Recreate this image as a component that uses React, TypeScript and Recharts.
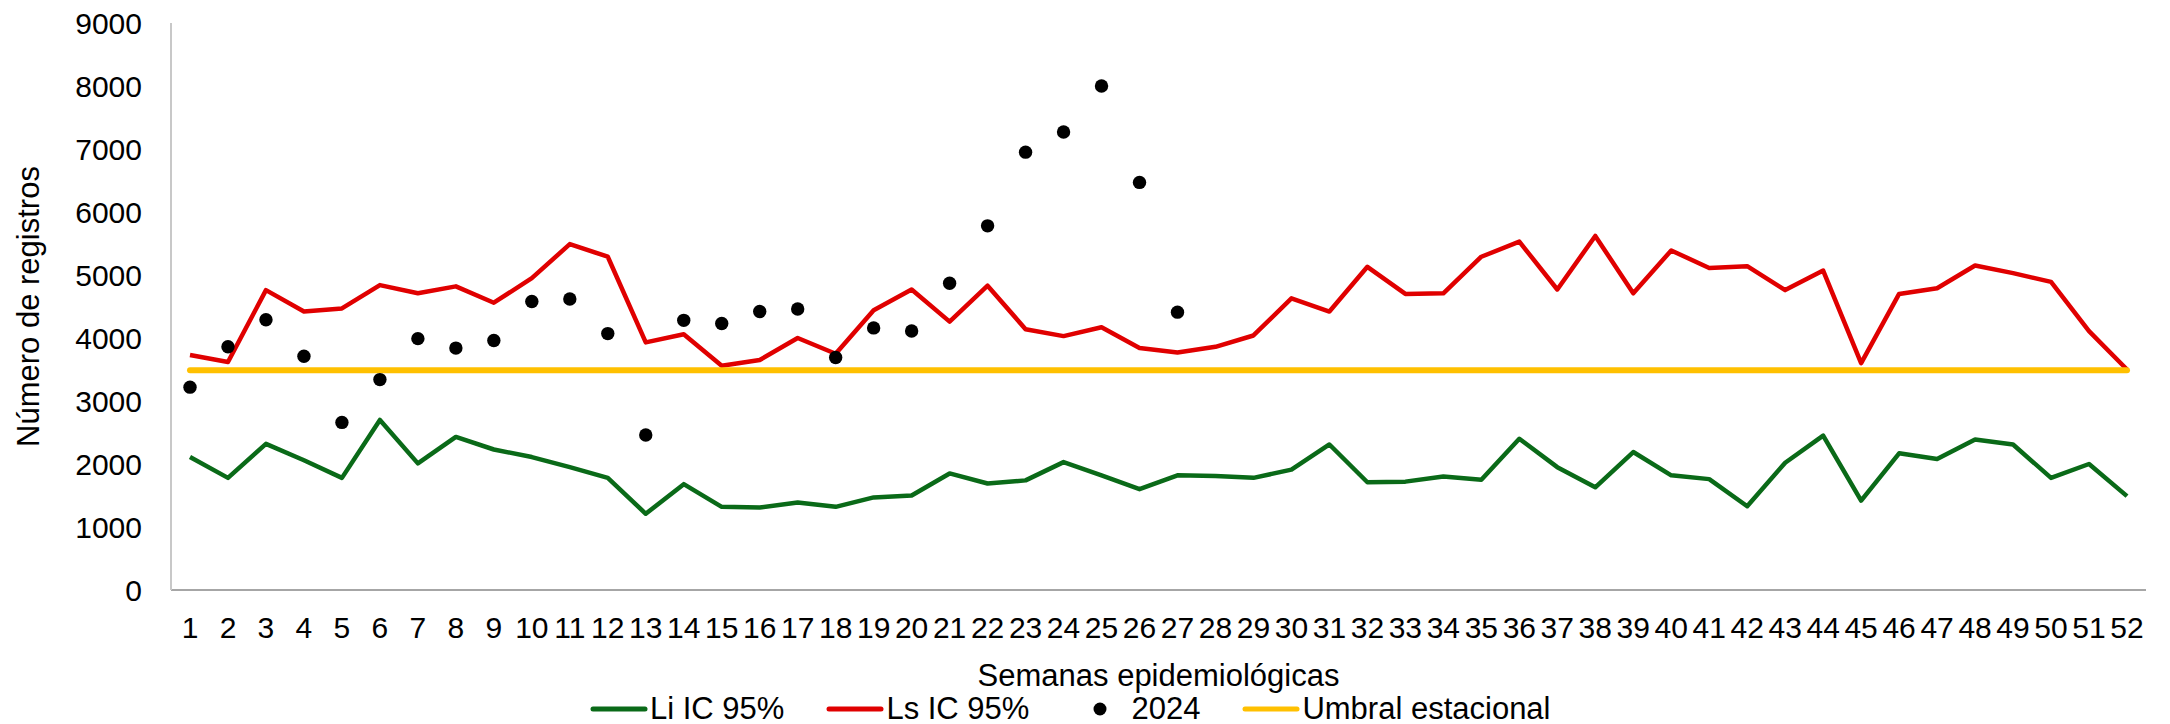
import React from "react";
import {
  ComposedChart,
  Line,
  XAxis,
  YAxis,
} from "recharts";

const semanas = [
  "1", "2", "3", "4", "5", "6", "7", "8", "9", "10", "11", "12", "13",
  "14", "15", "16", "17", "18", "19", "20", "21", "22", "23", "24", "25", "26",
  "27", "28", "29", "30", "31", "32", "33", "34", "35", "36", "37", "38", "39",
  "40", "41", "42", "43", "44", "45", "46", "47", "48", "49", "50", "51", "52",
];

const liIC95 = [
  2110, 1780, 2320, 2060, 1780, 2700, 2010, 2430, 2230, 2110, 1950, 1780, 1210,
  1680, 1320, 1310, 1390, 1320, 1470, 1500, 1850, 1690, 1740, 2030, 1820, 1600,
  1820, 1810, 1780, 1910, 2310, 1710, 1720, 1800, 1750, 2400, 1950, 1630, 2190,
  1820, 1760, 1330, 2020, 2450, 1420, 2170, 2080, 2390, 2310, 1780, 2000, 1490,
];

const lsIC95 = [
  3730, 3620, 4760, 4420, 4470, 4840, 4710, 4820, 4560, 4950, 5490, 5290, 3930,
  4060, 3560, 3650, 4000, 3750, 4440, 4770, 4260, 4830, 4140, 4030, 4170, 3840,
  3770, 3860, 4040, 4630, 4420, 5130, 4700, 4710, 5290, 5530, 4770, 5620, 4710,
  5390, 5110, 5140, 4760, 5070, 3600, 4700, 4790, 5150, 5030, 4890, 4110, 3500,
];

// only weeks 1-27 reported so far
const casos2024 = [
  3220, 3860, 4290, 3710, 2660, 3340, 3990, 3840, 3960, 4580, 4620, 4070, 2460,
  4280, 4230, 4420, 4460, 3690, 4160, 4110, 4870, 5780, 6950, 7270, 8000, 6470,
  4410,
];

const umbralEstacional = 3490;

const yTicks = [0, 1000, 2000, 3000, 4000, 5000, 6000, 7000, 8000, 9000];

const data = semanas.map((s, i) => ({
  semana: s,
  li: liIC95[i],
  ls: lsIC95[i],
  y2024: i < casos2024.length ? casos2024[i] : null,
  umbral: umbralEstacional,
}));

const FONT = '"Liberation Sans", Arial, sans-serif';
const GREEN = "#0A6A18";
const RED = "#E00000";
const YELLOW = "#FFC000";

function LegendLine({ color, label }: { color: string; label: string }) {
  return (
    <div style={{ display: "flex", alignItems: "center", marginRight: 42 }}>
      <svg width={58} height={12} style={{ marginRight: 2 }}>
        <line x1={3} y1={6} x2={55} y2={6} stroke={color} strokeWidth={5} strokeLinecap="round" />
      </svg>
      <span>{label}</span>
    </div>
  );
}

export default function App() {
  return (
    <div style={{ position: "absolute", left: 0, top: 0, width: 2170, height: 724, background: "#fff", fontFamily: FONT }}>
      <ComposedChart
        width={2170}
        height={724}
        data={data}
        margin={{ top: 23, right: 24, bottom: 34, left: 0 }}
      >
        <XAxis
          dataKey="semana"
          interval={0}
          height={100}
          padding={{ left: 19, right: 19 }}
          tickLine={false}
          tickSize={0}
          tickMargin={27}
          stroke="#A6A6A6"
          strokeWidth={2}
          tick={{ fill: "#000", fontSize: 30, fontFamily: FONT }}
          label={{
            value: "Semanas epidemiológicas",
            position: "insideBottom",
            offset: 4,
            fill: "#000",
            fontSize: 31,
            fontFamily: FONT,
          }}
        />
        <YAxis
          width={171}
          domain={[0, 9000]}
          ticks={yTicks}
          interval={0}
          tickLine={false}
          tickSize={0}
          tickMargin={29}
          stroke="#C8C8C8"
          strokeWidth={2}
          tick={{ fill: "#000", fontSize: 30, fontFamily: FONT }}
          label={{
            value: "Número de registros",
            angle: -90,
            position: "insideLeft",
            offset: 28,
            fill: "#000",
            fontSize: 31,
            fontFamily: FONT,
            style: { textAnchor: "middle" },
          }}
        />
        <Line
          dataKey="li"
          name="Li IC 95%"
          stroke={GREEN}
          strokeWidth={4.5}
          strokeLinejoin="round"
          dot={false}
          isAnimationActive={false}
        />
        <Line
          dataKey="ls"
          name="Ls IC 95%"
          stroke={RED}
          strokeWidth={4.5}
          strokeLinejoin="round"
          dot={false}
          isAnimationActive={false}
        />
        <Line
          dataKey="y2024"
          name="2024"
          stroke="none"
          dot={{ r: 6.7, fill: "#000", stroke: "none" }}
          activeDot={false}
          isAnimationActive={false}
        />
        <Line
          dataKey="umbral"
          name="Umbral estacional"
          stroke={YELLOW}
          strokeWidth={6}
          strokeLinecap="round"
          dot={false}
          isAnimationActive={false}
        />
      </ComposedChart>
      <div
        style={{
          position: "absolute",
          left: 590,
          top: 690,
          display: "flex",
          alignItems: "center",
          fontSize: 31,
          color: "#000",
          lineHeight: "38px",
          whiteSpace: "nowrap",
        }}
      >
        <LegendLine color={GREEN} label="Li IC 95%" />
        <LegendLine color={RED} label="Ls IC 95%" />
        <div style={{ display: "flex", alignItems: "center", marginRight: 42 }}>
          <svg width={58} height={16} style={{ marginRight: 2 }}>
            <circle cx={29} cy={8} r={6.5} fill="#000" />
          </svg>
          <span>2024</span>
        </div>
        <LegendLine color={YELLOW} label="Umbral estacional" />
      </div>
    </div>
  );
}
